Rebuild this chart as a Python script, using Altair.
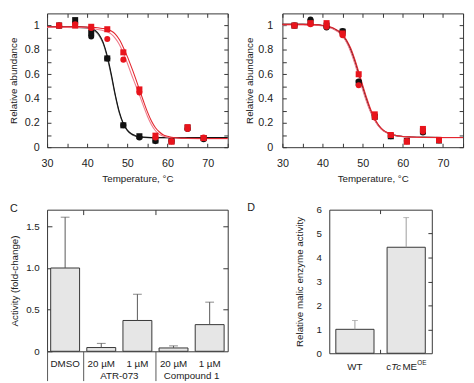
import altair as alt
import pandas as pd

FONT = "Liberation Sans"
INK = "#222222"

# ---------------- Panels A / B : thermal melting data ----------------
temps = [33, 37, 41, 45, 49, 53, 57, 61, 65, 69]

a_black_circle = [1.00, 1.02, 0.91, 0.73, 0.18, 0.08, 0.05, 0.05, 0.15, 0.065]
a_black_square = [1.00, 1.045, 0.94, 0.73, 0.18, 0.09, 0.055, 0.05, 0.16, 0.075]
a_red_circle = [1.00, 1.01, 0.98, 0.89, 0.72, 0.45, 0.08, 0.05, 0.15, 0.08]
a_red_square = [1.00, 1.00, 0.99, 0.97, 0.78, 0.475, 0.095, 0.045, 0.165, 0.075]

b_black_circle = [1.00, 1.05, 0.985, 0.955, 0.54, 0.26, 0.09, 0.05, 0.12, 0.06]
b_black_square = [1.00, 1.03, 1.00, 0.95, 0.53, 0.25, 0.09, 0.05, 0.13, 0.055]
b_red_circle = [1.00, 1.01, 0.99, 0.92, 0.51, 0.245, 0.10, 0.05, 0.13, 0.055]
b_red_square = [1.00, 1.02, 1.02, 0.935, 0.60, 0.27, 0.10, 0.045, 0.15, 0.06]

# fitted curves
curve_temps = [30, 35, 38, 40, 41, 42, 43, 44, 45, 46, 47, 48, 49, 50, 51, 52,
               53, 54, 55, 56, 57, 58, 59, 60, 62, 65, 70, 75]
a_fit_black = [0.99, 0.99, 0.99, 0.985, 0.978, 0.96, 0.925, 0.86, 0.75, 0.60, 0.43, 0.29, 0.195, 0.14,
               0.11, 0.095, 0.087, 0.083, 0.081, 0.08, 0.08, 0.08, 0.08, 0.08, 0.08, 0.08, 0.08, 0.08]
a_fit_grey = [0.985, 0.985, 0.983, 0.978, 0.97, 0.952, 0.915, 0.85, 0.735, 0.585, 0.42, 0.28, 0.19, 0.135,
              0.105, 0.09, 0.083, 0.079, 0.077, 0.076, 0.075, 0.075, 0.075, 0.075, 0.075, 0.075, 0.075, 0.075]
a_fit_red = [0.99, 0.99, 0.99, 0.988, 0.986, 0.984, 0.98, 0.976, 0.97, 0.955, 0.93, 0.885, 0.82, 0.745,
             0.66, 0.57, 0.475, 0.38, 0.29, 0.215, 0.16, 0.125, 0.10, 0.09, 0.078, 0.073, 0.072, 0.072]
a_fit_pink = [0.985, 0.985, 0.984, 0.982, 0.978, 0.972, 0.965, 0.958, 0.948, 0.93, 0.895, 0.845, 0.775, 0.69,
              0.60, 0.515, 0.43, 0.34, 0.255, 0.185, 0.135, 0.105, 0.09, 0.082, 0.075, 0.072, 0.07, 0.07]
b_fit_black = [1.01, 1.01, 1.008, 1.0, 0.995, 0.985, 0.97, 0.95, 0.92, 0.87, 0.80, 0.71, 0.60, 0.49,
               0.385, 0.295, 0.225, 0.175, 0.14, 0.12, 0.105, 0.097, 0.092, 0.088, 0.084, 0.081, 0.08, 0.08]
b_fit_red = [1.01, 1.01, 1.008, 1.002, 0.997, 0.988, 0.975, 0.955, 0.925, 0.88, 0.815, 0.725, 0.62, 0.51,
             0.405, 0.31, 0.235, 0.18, 0.145, 0.123, 0.107, 0.098, 0.092, 0.088, 0.084, 0.081, 0.08, 0.08]
b_fit_pink = [1.005, 1.005, 1.003, 0.997, 0.99, 0.98, 0.965, 0.945, 0.91, 0.86, 0.785, 0.69, 0.58, 0.47,
              0.37, 0.285, 0.22, 0.17, 0.137, 0.118, 0.104, 0.096, 0.091, 0.087, 0.083, 0.08, 0.079, 0.079]

point_series = ["black circle", "black square", "red circle", "red square"]
point_fill = ["#111111", "#111111", "#e8141c", "#e8141c"]
point_shape = ["circle", "square", "circle", "square"]
curve_series = ["grey fit", "black fit", "pink fit", "red fit"]
curve_colors = ["#666666", "#111111", "#f07a8a", "#e3262e"]

# ---------------- Panel C ----------------
c_keys = ["DMSO", "ATR-073 20 µM", "ATR-073 1 µM", "Compound 1 20 µM", "Compound 1 1 µM"]
c_means = [1.0, 0.045, 0.37, 0.04, 0.32]
c_sd = [0.61, 0.05, 0.315, 0.025, 0.27]

# ---------------- Panel D ----------------
d_keys = ["WT", "cTcME"]
d_means = [1.0, 4.43]
d_sd = [0.37, 1.24]
d_label_parts = ["c", "Tc", "ME", "OE"]

W1, H1 = 185, 137


def thermal_panel(pts, fits, label_pad, title_pad):
    prows = []
    for name, vals in zip(point_series, pts):
        for t, v in zip(temps, vals):
            prows.append({"T": t, "v": v, "s": name})
    pdf = pd.DataFrame(prows)
    crows = []
    for name, vals in zip(curve_series, fits):
        for t, v in zip(curve_temps, vals):
            crows.append({"T": t, "v": v, "s": name})
    cdf = pd.DataFrame(crows)

    xs = alt.Scale(domain=[30, 75], nice=False, zero=False)
    ys = alt.Scale(domain=[0, 1.1], nice=False)
    xticks = list(range(30, 80, 5))
    yticks = [round(i * 0.1, 1) for i in range(11)]

    lines = alt.Chart(cdf).mark_line(strokeWidth=1.1, interpolate="monotone").encode(
        x=alt.X("T:Q", scale=xs, axis=alt.Axis(
            values=xticks, orient="bottom",
            labelExpr="datum.value % 10 == 0 && datum.value < 75 ? datum.label : ''",
            offset=-4, tickSize=4, labelPadding=11, title="Temperature, °C", titlePadding=5)),
        y=alt.Y("v:Q", scale=ys, axis=alt.Axis(
            values=yticks, orient="left",
            labelExpr="round(datum.value * 10) % 2 == 0 ? (datum.value == 0 ? '0' : (datum.value == 1 ? '1' : format(datum.value, '.1f'))) : ''",
            offset=-4, tickSize=4, labelPadding=label_pad, title="Relative abundance", titlePadding=title_pad)),
        stroke=alt.Stroke("s:N", scale=alt.Scale(domain=curve_series, range=curve_colors), legend=None),
        detail="s:N",
    )
    points = alt.Chart(pdf).mark_point(filled=True, size=38, opacity=1).encode(
        x=alt.X("T:Q", scale=xs, axis=alt.Axis(
            values=xticks, orient="top", labels=False, offset=-4, tickSize=4, title=None)),
        y=alt.Y("v:Q", scale=ys, axis=alt.Axis(
            values=yticks, orient="right", labels=False, offset=-4, tickSize=4, title=None)),
        fill=alt.Fill("s:N", scale=alt.Scale(domain=point_series, range=point_fill), legend=None),
        shape=alt.Shape("s:N", scale=alt.Scale(domain=point_series, range=point_shape), legend=None),
    )
    return alt.layer(lines, points).resolve_axis(
        x="independent", y="independent").properties(width=W1, height=H1)


panel_a = thermal_panel(
    [a_black_circle, a_black_square, a_red_circle, a_red_square],
    [a_fit_grey, a_fit_black, a_fit_pink, a_fit_red], 8, 6)
panel_b = thermal_panel(
    [b_black_circle, b_black_square, b_red_circle, b_red_square],
    [b_fit_black, b_fit_black, b_fit_pink, b_fit_red], 10, 3)

# ---------------- Panel C chart ----------------
W3, H3 = 185, 145
c_df = pd.DataFrame({"k": c_keys, "m": c_means, "sd": c_sd})
c_df["hi"] = c_df["m"] + c_df["sd"]
cxs = alt.Scale(domain=c_keys, paddingInner=0, paddingOuter=0)
cys = alt.Scale(domain=[0, 1.7], nice=False)
c_step = W3 / len(c_keys)

c_bars = alt.Chart(c_df).mark_bar(width={"band": 0.8}, fill="#e6e6e6", stroke="#333333", strokeWidth=1).encode(
    x=alt.X("k:N", scale=cxs, sort=c_keys, axis=alt.Axis(
        values=c_keys, orient="bottom", labelAngle=0, ticks=False, tickSize=0, labelPadding=8,
        labelFontSize=10,
        labelExpr="replace(replace(datum.label, 'ATR-073 ', ''), 'Compound 1 ', '')", title=None)),
    y=alt.Y("m:Q", scale=cys, axis=alt.Axis(
        values=[0, 0.5, 1.0, 1.5], orient="left", offset=-5, tickSize=5, labelPadding=8,
        labelFontSize=10,
        labelExpr="datum.value == 0 ? '0' : format(datum.value, '.1f')",
        title="Activity (fold-change)", titlePadding=6)),
)
c_err = alt.Chart(c_df).mark_rule(color="#555555", strokeWidth=1).encode(
    x=alt.X("k:N", scale=cxs, sort=c_keys, axis=alt.Axis(
        values=[c_keys[0], c_keys[1], c_keys[3]], orient="bottom", bandPosition=0,
        tickSize=30, labels=False, title=None, tickColor="#555555")),
    y=alt.Y("m:Q", scale=cys, axis=alt.Axis(
        values=[0.5, 1.0, 1.5], orient="right", offset=-5, tickSize=5, labels=False, title=None)),
    y2="hi:Q",
)
c_caps = alt.Chart(c_df).mark_tick(color="#555555", size=9, thickness=1).encode(
    x=alt.X("k:N", scale=cxs, sort=c_keys, axis=alt.Axis(
        values=[c_keys[1], c_keys[3]], orient="top", bandPosition=0, offset=-5, tickSize=5,
        labels=False, title=None)),
    y=alt.Y("hi:Q", scale=cys, axis=None),
)
c_groups = alt.Chart(c_df).mark_tick(opacity=0).encode(
    x=alt.X("k:N", scale=cxs, sort=c_keys, axis=alt.Axis(
        values=[c_keys[2], c_keys[4]], orient="bottom", ticks=False, tickSize=0, labelPadding=20,
        labelFontSize=10, labelOffset=-c_step / 2, labelAngle=0,
        labelExpr="indexof(datum.label, 'ATR') >= 0 ? 'ATR-073' : 'Compound 1'", title=None)),
    y=alt.Y("m:Q", scale=cys, axis=None),
)
c_letter = alt.Chart(pd.DataFrame({"t": ["C"]})).mark_text(
    align="left", baseline="middle", fontSize=11, font=FONT, color=INK).encode(
    text="t:N", x=alt.value(-38), y=alt.value(-1))

panel_c = alt.layer(c_bars, c_err, c_caps, c_groups, c_letter).resolve_axis(
    x="independent", y="independent").properties(width=W3, height=H3)

# ---------------- Panel D chart ----------------
W4, H4 = 105, 147
d_df = pd.DataFrame({"k": d_keys, "m": d_means, "sd": d_sd})
d_df["hi"] = d_df["m"] + d_df["sd"]
dxs = alt.Scale(domain=d_keys, paddingInner=0, paddingOuter=0)
dys = alt.Scale(domain=[0, 6], nice=False)

d_bars = alt.Chart(d_df).mark_bar(width={"band": 0.745}, fill="#e6e6e6", stroke="#333333", strokeWidth=1).encode(
    x=alt.X("k:N", scale=dxs, sort=d_keys, axis=alt.Axis(
        values=d_keys, orient="bottom", labelAngle=0, ticks=False, tickSize=0, labelPadding=9,
        labelFontSize=10, labelExpr="datum.label == 'WT' ? 'WT' : ''", title=None)),
    y=alt.Y("m:Q", scale=dys, axis=alt.Axis(
        values=[0, 1, 2, 3, 4, 5, 6], orient="left", ticks=False, tickSize=0, labelPadding=8,
        labelFontSize=10, title="Relative malic enzyme activity", titlePadding=12)),
)
d_err = alt.Chart(d_df).mark_rule(color="#9a9a9a", strokeWidth=1).encode(
    x=alt.X("k:N", scale=dxs, sort=d_keys, axis=alt.Axis(
        values=[d_keys[1]], orient="bottom", bandPosition=0, offset=-4, tickSize=4,
        labels=False, title=None)),
    y=alt.Y("m:Q", scale=dys, axis=alt.Axis(
        values=[1, 2, 3, 4, 5], orient="right", offset=-4, tickSize=4, labels=False, title=None)),
    y2="hi:Q",
)
d_caps = alt.Chart(d_df).mark_tick(color="#9a9a9a", size=6, thickness=1).encode(
    x=alt.X("k:N", scale=dxs, sort=d_keys, axis=alt.Axis(
        values=[d_keys[1]], orient="top", bandPosition=0, offset=-4, tickSize=4,
        labels=False, title=None)),
    y=alt.Y("hi:Q", scale=dys, axis=None),
)
d_oe = d_df[d_df["k"] == d_keys[1]]
part_dx = [-20.3, -15.3, -3.9, 11.4]
part_style = [("normal", 10, 0), ("italic", 10, 0), ("normal", 10, 0), ("normal", 6.5, -2)]
d_parts = []
for txt, dx, (fstyle, fsize, dy) in zip(d_label_parts, part_dx, part_style):
    d_parts.append(
        alt.Chart(d_oe).mark_text(text=txt, align="left", baseline="top", font=FONT, fontSize=fsize,
                                  fontStyle=fstyle, color=INK, dx=dx, dy=dy).encode(
            x=alt.X("k:N", scale=dxs, sort=d_keys, axis=None),
            y=alt.value(H4 + 9)))
d_letter = alt.Chart(pd.DataFrame({"t": ["D"]})).mark_text(
    align="left", baseline="middle", fontSize=11, font=FONT, color=INK).encode(
    text="t:N", x=alt.value(-84), y=alt.value(-2))

panel_d = alt.layer(d_bars, d_err, d_caps, *d_parts, d_letter).resolve_axis(
    x="independent", y="independent").properties(width=W4, height=H4)

top = alt.hconcat(panel_a, panel_b, spacing=56, bounds="flush")
bottom = alt.hconcat(panel_c, panel_d, spacing=104, bounds="flush")
chart = alt.vconcat(top, bottom, spacing=17).properties(
    padding={"left": 0, "top": 0, "right": 0, "bottom": 0}
).configure_view(stroke="#333333", strokeWidth=1).configure_axis(
    labelFont=FONT, titleFont=FONT, labelFontSize=11, titleFontSize=10, titleFontWeight="normal",
    labelColor=INK, titleColor=INK, tickColor="#333333", grid=False, domain=False,
    labelFlush=False, labelOverlap=False,
)

chart.save("out.html", embed_options={"renderer": "svg", "actions": False})
